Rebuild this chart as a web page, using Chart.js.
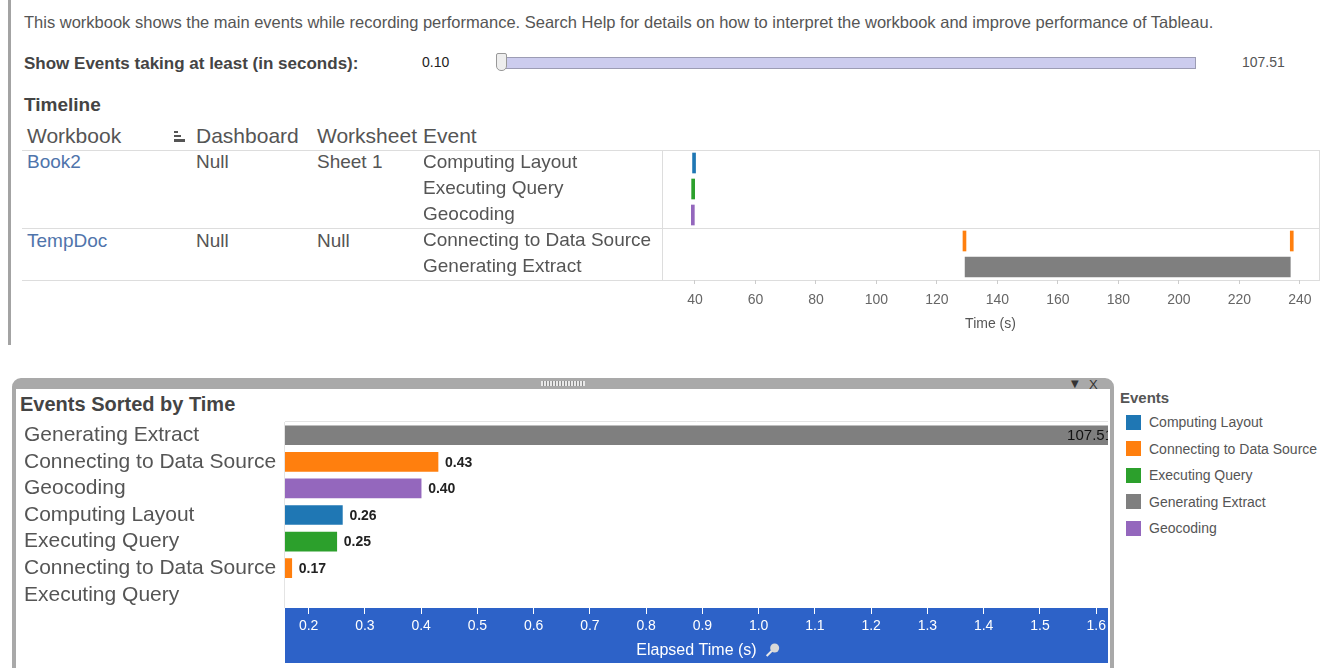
<!DOCTYPE html>
<html><head><meta charset="utf-8">
<script src="https://cdn.jsdelivr.net/npm/chart.js@4.4.1/dist/chart.umd.min.js"></script>
<style>
html,body{margin:0;padding:0;background:#fff;width:1323px;height:668px;overflow:hidden;font-family:"Liberation Sans",Arial,sans-serif;position:relative;}
.t{position:absolute;white-space:nowrap;line-height:1;transform:translateY(-50%);color:#555;}
.hl{position:absolute;height:1px;background:#dddddd;}
.vl{position:absolute;width:1px;background:#dddddd;}
canvas{position:absolute;}
.sq{position:absolute;width:15px;height:15px;}
</style></head><body>

<div style="position:absolute;left:8px;top:0;width:3px;height:345px;background:#a3a3a3"></div>
<div class="t" style="left:24px;top:22px;font-size:16.5px;">This workbook shows the main events while recording performance. Search Help for details on how to interpret the workbook and improve performance of Tableau.</div>
<div class="t" style="left:24px;top:63px;font-size:17px;font-weight:bold;color:#444;">Show Events taking at least (in seconds):</div>
<div class="t" style="left:422px;top:62px;font-size:14px;color:#222;">0.10</div>
<div style="position:absolute;left:500px;top:57px;width:694px;height:10px;background:#ccccee;border:1px solid #9c9cb4;"></div>
<div style="position:absolute;left:496px;top:53px;width:9px;height:16px;background:#eeeeee;border:1px solid #999;border-radius:2px 2px 5px 5px;"></div>
<div class="t" style="left:1242px;top:62px;font-size:14px;color:#555;">107.51</div>
<div class="t" style="left:24px;top:104px;font-size:19px;font-weight:bold;color:#444;">Timeline</div>

<div class="t" style="left:27px;top:135px;font-size:21px;">Workbook</div>
<div style="position:absolute;left:174px;top:131px;width:4px;height:2px;background:#555"></div>
<div style="position:absolute;left:174px;top:135px;width:7px;height:2px;background:#555"></div>
<div style="position:absolute;left:174px;top:139px;width:11px;height:3px;background:#555"></div>
<div class="t" style="left:196px;top:135px;font-size:21px;">Dashboard</div>
<div class="t" style="left:317px;top:135px;font-size:21px;">Worksheet</div>
<div class="t" style="left:423px;top:135px;font-size:21px;">Event</div>

<div class="hl" style="left:22px;top:150px;width:1298px;"></div>
<div class="hl" style="left:22px;top:228px;width:1298px;"></div>
<div class="hl" style="left:22px;top:280px;width:1298px;"></div>
<div class="vl" style="left:662px;top:150px;height:131px;"></div>
<div class="vl" style="left:1319px;top:150px;height:131px;"></div>

<div class="t" style="left:27px;top:161px;font-size:19px;color:#4f74ab;">Book2</div>
<div class="t" style="left:196px;top:161px;font-size:19px;">Null</div>
<div class="t" style="left:317px;top:161px;font-size:19px;">Sheet 1</div>
<div class="t" style="left:27px;top:240px;font-size:19px;color:#4f74ab;">TempDoc</div>
<div class="t" style="left:196px;top:240px;font-size:19px;">Null</div>
<div class="t" style="left:317px;top:240px;font-size:19px;">Null</div>

<canvas id="timeline" width="905" height="200" style="left:418px;top:140px;width:905px;height:200px;"></canvas>

<div style="position:absolute;left:12px;top:378px;width:1102px;height:300px;box-sizing:border-box;border:4px solid #a9a9a9;border-top-width:11px;border-radius:9px 9px 0 0;"></div>
<div style="position:absolute;left:541px;top:381px;width:44px;height:5px;background:repeating-linear-gradient(90deg,#e8e8e8 0 2px,#8a8a8a 2px 3px);"></div>
<div class="t" style="left:1071px;top:384px;font-size:10px;color:#333;font-family:'DejaVu Sans';">▼</div>
<div class="t" style="left:1089px;top:384px;font-size:13px;color:#333;">X</div>
<div class="t" style="left:20px;top:404px;font-size:20px;font-weight:bold;color:#444;">Events Sorted by Time</div>

<canvas id="sorted" width="1090" height="253" style="left:20px;top:415px;width:1090px;height:253px;"></canvas>

<div class="t" style="left:1120px;top:397px;font-size:15px;font-weight:bold;color:#555;">Events</div>
<div id="legend"></div>

<script>
// ---------- data ----------
const legendEvents = ['Computing Layout', 'Connecting to Data Source', 'Executing Query', 'Generating Extract', 'Geocoding'];
const legendColors = ['#1f77b4', '#ff7f0e', '#2ca02c', '#7f7f7f', '#9467bd'];

// Timeline rows and marks (seconds)
const timelineRows = ['Computing Layout', 'Executing Query', 'Geocoding', 'Connecting to Data Source', 'Generating Extract'];
const markEvent    = ['Computing Layout', 'Executing Query', 'Geocoding', 'Connecting to Data Source', 'Connecting to Data Source', 'Generating Extract'];
const markStart    = [39.2, 38.9, 38.8, 128.6, 236.8, 129.3];
const markDuration = [0.26, 0.25, 0.40, 0.43, 0.17, 107.51];
const timelineTicks = { min: 29.1, max: 246.3, step: 20 };

// Events sorted by time
const sortedEvents  = ['Generating Extract', 'Connecting to Data Source', 'Geocoding', 'Computing Layout', 'Executing Query', 'Connecting to Data Source', 'Executing Query'];
const sortedElapsed = [107.51, 0.43, 0.40, 0.26, 0.25, 0.17, 0.12];
const elapsedTicks  = { min: 0.158, max: 1.621, step: 0.1 };

// ---------- build ----------
const colorOf = e => legendColors[legendEvents.indexOf(e)];
Chart.defaults.font.family = '"Liberation Sans", Arial, sans-serif';

// legend
const lg = document.getElementById('legend');
legendEvents.forEach((e, i) => {
  const y = 422 + i * 26.5;
  const sq = document.createElement('div');
  sq.className = 'sq';
  sq.style.left = '1126px'; sq.style.top = (y - 7.5) + 'px'; sq.style.background = legendColors[i];
  lg.appendChild(sq);
  const tx = document.createElement('div');
  tx.className = 't';
  tx.style.left = '1149px'; tx.style.top = y + 'px'; tx.style.fontSize = '14px';
  tx.textContent = e;
  lg.appendChild(tx);
});

new Chart(document.getElementById('timeline'), {
  type: 'bar',
  data: {
    labels: timelineRows,
    datasets: [{
      data: markEvent.map((e, i) => ({ x: [markStart[i], markStart[i] + markDuration[i]], y: e })),
      backgroundColor: markEvent.map(colorOf),
      barThickness: 20,
      minBarLength: 3,
      borderWidth: 0
    }]
  },
  options: {
    indexAxis: 'y',
    responsive: false,
    animation: false,
    layout: { padding: { left: 5, right: 4, top: 10, bottom: 0 } },
    plugins: { legend: { display: false }, tooltip: { enabled: false } },
    scales: {
      x: {
        type: 'linear', min: timelineTicks.min, max: timelineTicks.max,
        ticks: { stepSize: timelineTicks.step, includeBounds: false, color: '#666', font: { size: 14 }, padding: 8 },
        grid: { drawOnChartArea: false, tickLength: 4, color: '#cccccc' },
        border: { display: false },
        title: { display: true, text: 'Time (s)', color: '#555', font: { size: 14 }, padding: { top: 0, bottom: 7 } },
        afterFit: s => { s.height = 60; }
      },
      y: {
        ticks: { autoSkip: false, crossAlign: 'far', color: '#555', font: { size: 19 }, padding: 0 },
        grid: { display: false },
        border: { display: false },
        afterFit: s => { s.width = 239; s.paddingTop = 0; s.paddingBottom = 0; }
      }
    }
  }
});

const bandPlugin = {
  id: 'band',
  beforeDraw(chart) {
    const { ctx, chartArea: a, scales: { x } } = chart;
    ctx.save();
    ctx.fillStyle = '#2d62c8';
    ctx.fillRect(a.left, x.top, a.right - a.left, x.bottom - x.top);
    ctx.strokeStyle = '#e4e4e4';
    ctx.lineWidth = 1;
    ctx.beginPath();
    ctx.moveTo(a.left, a.top - 0.5); ctx.lineTo(a.right, a.top - 0.5);
    ctx.moveTo(a.left - 0.5, a.top); ctx.lineTo(a.left - 0.5, a.bottom);
    ctx.stroke();
    ctx.restore();
  },
  afterDatasetsDraw(chart) {
    const { ctx, chartArea: a, scales: { x } } = chart;
    const meta = chart.getDatasetMeta(0);
    const vals = chart.data.datasets[0].data;
    ctx.save();
    ctx.beginPath(); ctx.rect(a.left, a.top, a.right - a.left, a.bottom - a.top); ctx.clip();
    ctx.textBaseline = 'middle';
    meta.data.forEach((bar, i) => {
      const v = vals[i];
      if (v <= x.min) return;
      const txt = v.toFixed(2);
      if (bar.x > a.right) {
        ctx.font = '15px "Liberation Sans", Arial, sans-serif';
        ctx.fillStyle = '#111';
        ctx.textAlign = 'right';
        ctx.fillText(txt, a.right + 5, bar.y + 1);
      } else {
        ctx.font = 'bold 14px "Liberation Sans", Arial, sans-serif';
        ctx.fillStyle = '#222';
        ctx.textAlign = 'left';
        ctx.fillText(txt, bar.x + 7, bar.y + 1);
      }
    });
    ctx.restore();
  },
  afterDraw(chart) {
    // small pin icon next to the axis title
    const { ctx, chartArea: a, scales: { x } } = chart;
    ctx.save();
    ctx.font = '16px "Liberation Sans", Arial, sans-serif';
    const w = ctx.measureText('Elapsed Time (s)').width;
    const cx = (a.left + a.right) / 2 + w / 2 + 16;
    const cy = x.bottom - 13;
    ctx.strokeStyle = '#e8e8e8';
    ctx.lineWidth = 2;
    ctx.beginPath(); ctx.moveTo(cx - 6, cy + 6); ctx.lineTo(cx, cy); ctx.stroke();
    ctx.fillStyle = '#d8d8d8';
    ctx.beginPath(); ctx.arc(cx + 2, cy - 2, 4.5, 0, Math.PI * 2); ctx.fill();
    ctx.restore();
  }
};

new Chart(document.getElementById('sorted'), {
  type: 'bar',
  data: {
    labels: sortedEvents,
    datasets: [{
      data: sortedElapsed,
      backgroundColor: sortedEvents.map(colorOf),
      barThickness: 19,
      borderWidth: 0
    }]
  },
  options: {
    indexAxis: 'y',
    responsive: false,
    animation: false,
    layout: { padding: { left: 4, right: 2, top: 7, bottom: 5 } },
    plugins: { legend: { display: false }, tooltip: { enabled: false } },
    scales: {
      x: {
        type: 'linear', min: elapsedTicks.min, max: elapsedTicks.max,
        ticks: { stepSize: elapsedTicks.step, includeBounds: false, color: '#ffffff', font: { size: 14 }, padding: 4,
                 callback: v => Number(v).toFixed(1) },
        grid: { drawOnChartArea: false, color: '#ffffff', tickLength: 6 },
        border: { display: false },
        title: { display: true, text: 'Elapsed Time (s)', color: '#ffffff', font: { size: 16 }, padding: { top: 0, bottom: 3 } },
        afterFit: s => { s.height = 55; }
      },
      y: {
        ticks: { autoSkip: false, crossAlign: 'far', color: '#555', font: { size: 21 }, padding: 0 },
        grid: { display: false },
        border: { display: false },
        afterFit: s => { s.width = 261; s.paddingTop = 0; s.paddingBottom = 0; }
      }
    }
  },
  plugins: [bandPlugin]
});
</script>
</body></html>
